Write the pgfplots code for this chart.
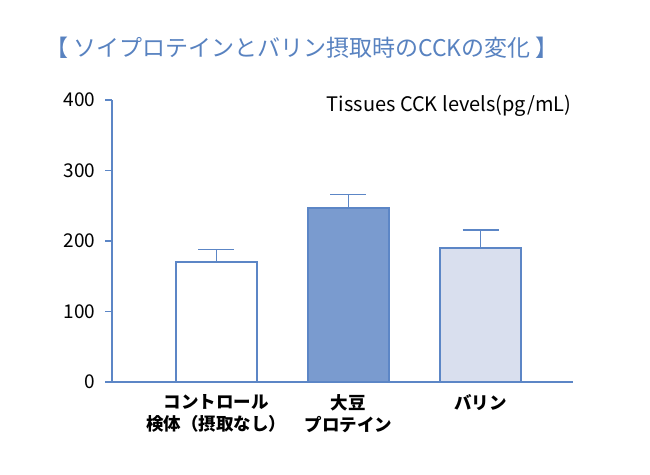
\documentclass[border=0pt]{standalone}
\usepackage{pgfplots}
\pgfplotsset{compat=1.18}
\usepackage{fontspec}
\setmainfont{Noto Sans CJK JP}
\definecolor{axblue}{RGB}{92,134,198}
\definecolor{barblue}{RGB}{122,155,207}
\definecolor{barlight}{RGB}{217,223,238}
\definecolor{titleblue}{RGB}{88,130,192}
\begin{document}
\begin{tikzpicture}
\useasboundingbox (0pt,0pt) rectangle (650pt,474pt);
\node[text=titleblue,font=\fontsize{23}{26}\selectfont] at (302pt,426pt) {【 ソイプロテインとバリン摂取時のCCKの変化 】};
\begin{axis}[
  at={(112pt,92pt)}, anchor=south west,
  scale only axis, width=461pt, height=282pt,
  xmin=-0.79, xmax=2.70, ymin=0, ymax=400,
  axis x line=bottom, axis y line=left,
  axis line style={axblue, line width=1.6pt, -},
  xtick={0,1,2},
  xticklabels={コントロール\\検体（摂取なし）, 大豆\\プロテイン, バリン},
  xticklabel style={align=center, font=\bfseries\fontsize{17.5}{22}\selectfont, text=black, yshift=-2pt},
  x tick style={draw=none},
  ytick={0,100,200,300,400},
  y tick style={axblue, line width=1.6pt},
  tick align=outside, major tick length=7pt,
  yticklabel style={font=\fontsize{19}{22}\selectfont, text=black, xshift=-6pt},
  /pgf/number format/assume math mode=true,
  ybar, bar width=81pt, bar shift=0pt,
  error bars/y dir=plus, error bars/y explicit,
  error bars/error mark options={rotate=90, mark size=18pt, line width=1.6pt, axblue},
  error bars/error bar style={line width=1.6pt, axblue},
  clip=false,
]
\addplot[draw=axblue, line width=1.6pt, fill=white] coordinates {(0,170) +- (0,18)};
\addplot[draw=axblue, line width=1.6pt, fill=barblue] coordinates {(1,247) +- (0,19)};
\addplot[draw=axblue, line width=1.6pt, fill=barlight] coordinates {(2,190) +- (0,26)};
\end{axis}
\node[font=\fontsize{20}{22}\selectfont] at (449pt,368pt) {Tissues CCK levels(pg/mL)};
\end{tikzpicture}
\end{document}
